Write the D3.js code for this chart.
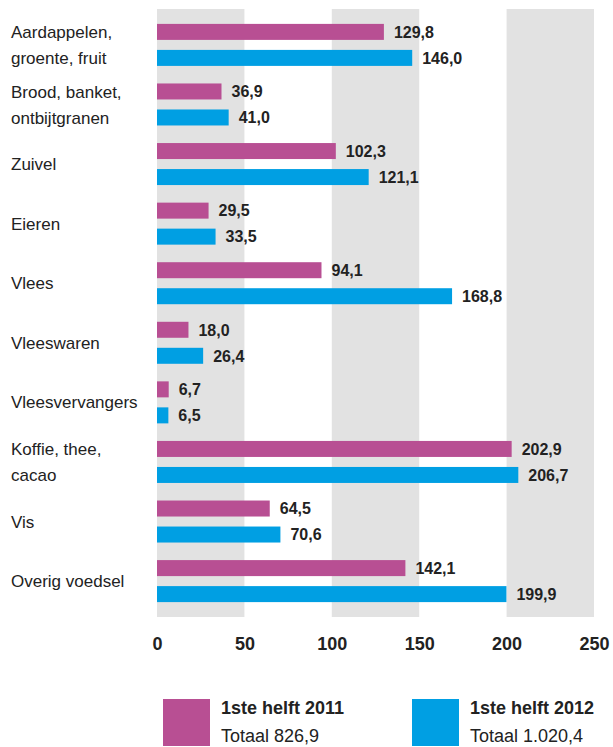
<!DOCTYPE html>
<html>
<head>
<meta charset="utf-8">
<script src="https://cdn.jsdelivr.net/npm/d3@7"></script>
<style>
	html, body { margin: 0; padding: 0; background: #fff; }
	svg { display: block; font-family: "Liberation Sans", Arial, sans-serif; }
</style>
</head>
<body>
<div id="chart"></div>
<script>
// data
const categories = [
	"Aardappelen,\ngroente, fruit",
	"Brood, banket,\nontbijtgranen",
	"Zuivel",
	"Eieren",
	"Vlees",
	"Vleeswaren",
	"Vleesvervangers",
	"Koffie, thee,\ncacao",
	"Vis",
	"Overig voedsel"
];
const values2011 = [129.8, 36.9, 102.3, 29.5, 94.1, 18.0, 6.7, 202.9, 64.5, 142.1];
const values2012 = [146.0, 41.0, 121.1, 33.5, 168.8, 26.4, 6.5, 206.7, 70.6, 199.9];
const seriesNames = ["1ste helft 2011", "1ste helft 2012"];
const seriesTotals = [826.9, 1020.4];
const xTicks = [0, 50, 100, 150, 200, 250];

const options = {
	w: 613,
	h: 747,
	x0: 157,
	x1: 594,
	yTop: 9,
	yBottom: 617,
	colors: ["#b84f93", "#009fe3"],
	band: "#e2e2e2",
	text: "#222"
};

const nl = d3.formatLocale({ decimal: ",", thousands: ".", grouping: [3], currency: ["", ""] });
const fmt = nl.format(",.1f");

const data = categories.map((c, i) => ({
	name: c,
	lines: c.split("\n"),
	vals: [values2011[i], values2012[i]]
}));

const svg = d3.select("#chart")
	.append("svg")
	.attr("width", options.w)
	.attr("height", options.h)
	.attr("viewBox", `0 0 ${options.w} ${options.h}`);

const xScale = d3.scaleLinear().domain([0, 250]).range([options.x0, options.x1]);
const yScale0 = d3.scaleBand()
	.domain(categories)
	.range([options.yTop, options.yBottom])
	.paddingInner(0.295)
	.paddingOuter(0.25);
const yScale1 = d3.scaleBand()
	.domain([0, 1])
	.range([0, yScale0.bandwidth()])
	.paddingInner(0.385);

// grey column bands 0-50, 100-150, 200-250
const bandPairs = d3.pairs(xTicks).filter((d, i) => i % 2 === 0);
svg.append("g").attr("class", "bands")
	.selectAll("rect")
	.data(bandPairs)
	.enter().append("rect")
	.attr("x", d => xScale(d[0]))
	.attr("y", options.yTop)
	.attr("width", d => xScale(d[1]) - xScale(d[0]))
	.attr("height", options.yBottom - options.yTop)
	.attr("fill", options.band);

// x axis labels
const xAxis = d3.axisBottom(xScale).tickValues(xTicks).tickSize(0).tickPadding(0).tickFormat(d3.format("d"));
const gx = svg.append("g")
	.attr("class", "xAxis")
	.attr("transform", "translate(0,637)")
	.call(xAxis);
gx.select(".domain").remove();
gx.selectAll("text")
	.attr("fill", options.text)
	.attr("font-size", 18)
	.attr("font-weight", "bold")
	.attr("font-family", "\"Liberation Sans\", Arial, sans-serif");

const group = svg.selectAll(".group")
	.data(data)
	.enter().append("g")
	.attr("class", "group")
	.attr("transform", d => `translate(0,${yScale0(d.name)})`);

group.selectAll(".bar")
	.data(d => d.vals.map((v, k) => ({ v, k })))
	.enter().append("rect")
	.attr("class", "bar")
	.attr("x", xScale(0))
	.attr("y", d => yScale1(d.k))
	.attr("width", d => xScale(d.v) - xScale(0))
	.attr("height", yScale1.bandwidth())
	.attr("fill", d => options.colors[d.k]);

group.selectAll(".label")
	.data(d => d.vals.map((v, k) => ({ v, k })))
	.enter().append("text")
	.attr("class", "label")
	.attr("x", d => xScale(d.v) + 10)
	.attr("y", d => yScale1(d.k) + yScale1.bandwidth() / 2)
	.attr("dy", "0.36em")
	.attr("font-size", 16)
	.attr("font-weight", "bold")
	.attr("fill", options.text)
	.text(d => fmt(d.v));

// category names: two-line names sit on each bar, single ones in the middle
group.selectAll(".cat")
	.data(d => d.lines.map((t, k, arr) => ({ t, k, n: arr.length })))
	.enter().append("text")
	.attr("class", "cat")
	.attr("x", 11)
	.attr("y", d => d.n === 1 ? yScale0.bandwidth() / 2 : yScale1(d.k) + yScale1.bandwidth() / 2)
	.attr("dy", "0.36em")
	.attr("font-size", 17)
	.attr("fill", options.text)
	.text(d => d.t);

// legend
const legendX = [163, 412];
const legend = svg.selectAll(".legend")
	.data(seriesNames)
	.enter().append("g")
	.attr("class", "legend")
	.attr("transform", (d, i) => `translate(${legendX[i]},699)`);

legend.append("rect")
	.attr("width", 47)
	.attr("height", 47)
	.attr("fill", (d, i) => options.colors[i]);

legend.append("text")
	.attr("x", 58)
	.attr("y", 15)
	.attr("font-size", 18)
	.attr("font-weight", "bold")
	.attr("fill", options.text)
	.text(d => d);

legend.append("text")
	.attr("x", 58)
	.attr("y", 43)
	.attr("font-size", 18)
	.attr("fill", options.text)
	.text((d, i) => "Totaal " + fmt(seriesTotals[i]));
</script>
</body>
</html>
